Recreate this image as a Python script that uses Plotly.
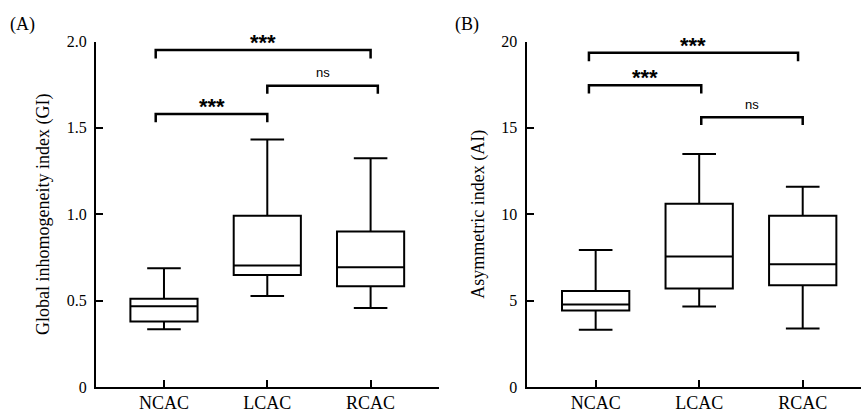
import plotly.graph_objects as go

categories = ["NCAC", "LCAC", "RCAC"]

# Panel A: Global inhomogeneity index (GI)
gi_lower = [0.335, 0.527, 0.457]
gi_q1 = [0.379, 0.648, 0.583]
gi_median = [0.468, 0.703, 0.693]
gi_q3 = [0.511, 0.991, 0.900]
gi_upper = [0.687, 1.432, 1.324]

# Panel B: Asymmetric index (AI)
ai_lower = [3.32, 4.66, 3.38]
ai_q1 = [4.43, 5.70, 5.89]
ai_median = [4.78, 7.56, 7.10]
ai_q3 = [5.55, 10.61, 9.92]
ai_upper = [7.93, 13.49, 11.59]

# significance brackets: (x_left, x_right, height, drop, label, label_y)
gi_brackets = [
    (-0.08, 2.0, 1.951, 1.901, "***", 2.017),
    (-0.08, 1.0, 1.581, 1.533, "***", 1.649),
    (1.0, 2.07, 1.744, 1.698, "ns", 1.820),
]
ai_brackets = [
    (-0.065, 1.955, 19.35, 18.85, "***", 20.0),
    (-0.065, 1.02, 17.47, 16.99, "***", 18.14),
    (1.02, 2.0, 15.62, 15.16, "ns", 16.37),
]

W, H = 861, 412
SERIF = "Liberation Serif"
SANS = "Liberation Sans"

fig = go.Figure()
xpos = list(range(len(categories)))

fig.add_trace(go.Box(
    x=xpos, q1=gi_q1, median=gi_median, q3=gi_q3,
    lowerfence=gi_lower, upperfence=gi_upper,
    width=0.65, whiskerwidth=0.5, fillcolor="white",
    line=dict(color="black", width=2), boxpoints=False,
    xaxis="x", yaxis="y", showlegend=False, hoverinfo="skip",
))
fig.add_trace(go.Box(
    x=xpos, q1=ai_q1, median=ai_median, q3=ai_q3,
    lowerfence=ai_lower, upperfence=ai_upper,
    width=0.65, whiskerwidth=0.5, fillcolor="white",
    line=dict(color="black", width=2), boxpoints=False,
    xaxis="x2", yaxis="y2", showlegend=False, hoverinfo="skip",
))

ydom = [1 - 387 / H, 1 - 41.5 / H]
ymax = {"y": 2.0, "y2": 20.0}


def to_paper(v, yr):
    return ydom[0] + (v / ymax[yr]) * (ydom[1] - ydom[0])


shapes = []
annotations = []
for brackets, xr, yr in [(gi_brackets, "x", "y"), (ai_brackets, "x2", "y2")]:
    for x0, x1, hy, dy, lab, ly in brackets:
        shapes.append(dict(
            type="path", xref=xr, yref=yr,
            path=f"M {x0},{dy} L {x0},{hy} L {x1},{hy} L {x1},{dy}",
            line=dict(color="black", width=2.5),
        ))
        is_star = lab.startswith("*")
        annotations.append(dict(
            x=(x0 + x1) / 2, y=to_paper(ly, yr), xref=xr, yref="paper",
            text=f"<b>{lab}</b>" if is_star else lab,
            showarrow=False, yanchor="middle", xanchor="center",
            yshift=-4 if is_star else 0,
            font=dict(family=SANS, size=22 if is_star else 13, color="black"),
        ))

annotations.append(dict(x=8 / W, y=1 - 25 / H, xref="paper", yref="paper",
                        text="(A)", showarrow=False, xanchor="left", yanchor="middle",
                        font=dict(family=SERIF, size=18, color="black")))
annotations.append(dict(x=453 / W, y=1 - 25 / H, xref="paper", yref="paper",
                        text="(B)", showarrow=False, xanchor="left", yanchor="middle",
                        font=dict(family=SERIF, size=18, color="black")))

axis_common = dict(
    showgrid=False, zeroline=False, showline=True, linecolor="black", linewidth=2,
    ticks="inside", ticklen=7, tickwidth=2, tickcolor="black",
    automargin=False, color="black",
)

fig.update_layout(
    width=W, height=H,
    margin=dict(l=0, r=0, t=0, b=0),
    paper_bgcolor="white", plot_bgcolor="white",
    showlegend=False,
    xaxis=dict(domain=[96 / W, 439.3 / W], range=[-0.658, 2.665],
               tickvals=xpos, ticktext=categories, ticklabelstandoff=-2,
               tickfont=dict(family=SERIF, size=18, color="black"),
               anchor="y", **axis_common),
    yaxis=dict(domain=ydom, range=[0, 2.0], tickvals=[0, 0.5, 1.0, 1.5, 2.0],
               ticktext=["0", "0.5", "1.0", "1.5", "2.0"], ticklabelstandoff=4,
               tickfont=dict(family=SERIF, size=16, color="black"),
               title=dict(text="Global inhomogeneity index (GI)",
                          font=dict(family=SERIF, size=18, color="black"), standoff=12),
               anchor="x", **axis_common),
    xaxis2=dict(domain=[526.5 / W, 861 / W], range=[-0.668, 2.563],
                tickvals=xpos, ticktext=categories, ticklabelstandoff=-2,
                tickfont=dict(family=SERIF, size=18, color="black"),
                anchor="y2", **axis_common),
    yaxis2=dict(domain=ydom, range=[0, 20], tickvals=[0, 5, 10, 15, 20],
                ticklabelstandoff=4,
                tickfont=dict(family=SERIF, size=16, color="black"),
                title=dict(text="Asymmetric index (AI)",
                           font=dict(family=SERIF, size=18, color="black"), standoff=12),
                anchor="x2", **axis_common),
    shapes=shapes,
    annotations=annotations,
)

fig.write_html("out.html", config={"displayModeBar": False},
               post_script="document.body.style.margin='0';")
